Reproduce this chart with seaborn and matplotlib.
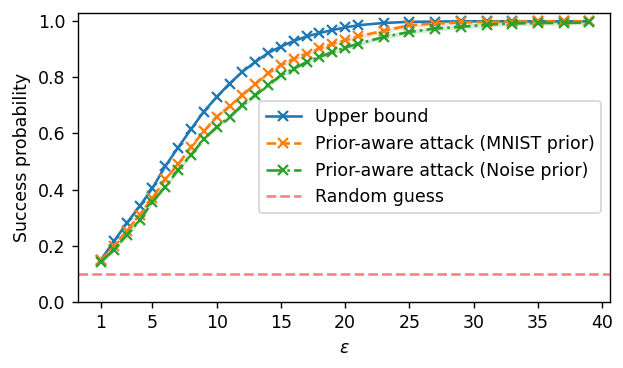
import numpy as np
import pandas as pd
import seaborn as sns
import matplotlib.pyplot as plt

# epsilon values: every integer up to 21, then every second one
eps = list(range(1, 22)) + list(range(23, 40, 2))

upper_bound = [0.150, 0.215, 0.280, 0.340, 0.405, 0.483, 0.550, 0.615, 0.678, 0.730,
               0.778, 0.820, 0.855, 0.887, 0.910, 0.930, 0.946, 0.958, 0.969, 0.978,
               0.986, 0.994, 0.998, 0.999, 1.000, 1.000, 1.000, 1.000, 1.000, 1.000]
mnist_prior = [0.148, 0.198, 0.253, 0.310, 0.370, 0.437, 0.490, 0.552, 0.608, 0.660,
               0.697, 0.736, 0.776, 0.815, 0.843, 0.867, 0.885, 0.903, 0.920, 0.932,
               0.946, 0.966, 0.986, 0.992, 0.996, 0.998, 0.999, 1.000, 1.000, 1.000]
noise_prior = [0.142, 0.186, 0.238, 0.290, 0.356, 0.410, 0.470, 0.523, 0.580, 0.623,
               0.659, 0.700, 0.736, 0.772, 0.808, 0.831, 0.855, 0.873, 0.890, 0.906,
               0.920, 0.944, 0.962, 0.974, 0.980, 0.988, 0.992, 0.994, 0.994, 0.996]
mnist_spread = 0.008
noise_spread = 0.008
random_guess = 0.1

df = pd.DataFrame({'eps': eps, 'upper': upper_bound,
                   'mnist': mnist_prior, 'noise': noise_prior})

fig, ax = plt.subplots(figsize=(623 / 125, 368 / 125), dpi=125)
fig.subplots_adjust(left=0.125, right=0.979, top=0.965, bottom=0.18)

# seaborn paints marker edges white by default, so set them back to the line colour
sns.lineplot(data=df, x='eps', y='upper', marker='x', color='C0',
             markeredgecolor='C0', markeredgewidth=1.3,
             label='Upper bound', ax=ax)
sns.lineplot(data=df, x='eps', y='mnist', marker='x', color='C1', linestyle='--',
             markeredgecolor='C1', markeredgewidth=1.3,
             label='Prior-aware attack (MNIST prior)', ax=ax)
ax.fill_between(df['eps'], df['mnist'] - mnist_spread, df['mnist'] + mnist_spread,
                color='C1', alpha=0.2, linewidth=0)
sns.lineplot(data=df, x='eps', y='noise', marker='x', color='C2', linestyle='-.',
             markeredgecolor='C2', markeredgewidth=1.3,
             label='Prior-aware attack (Noise prior)', ax=ax)
ax.fill_between(df['eps'], df['noise'] - noise_spread, df['noise'] + noise_spread,
                color='C2', alpha=0.2, linewidth=0)
ax.axhline(random_guess, color='r', alpha=0.5, linestyle='--', label='Random guess')

ax.set_xticks([1, 5, 10, 15, 20, 25, 30, 35, 40])
ax.set_xlim(-0.8, 40.6)
ax.set_ylim(0, 1.03)
ax.set_xlabel(r'$\epsilon$')
ax.set_ylabel('Success probability')
ax.legend(loc='center right')

plt.savefig('out.png')
